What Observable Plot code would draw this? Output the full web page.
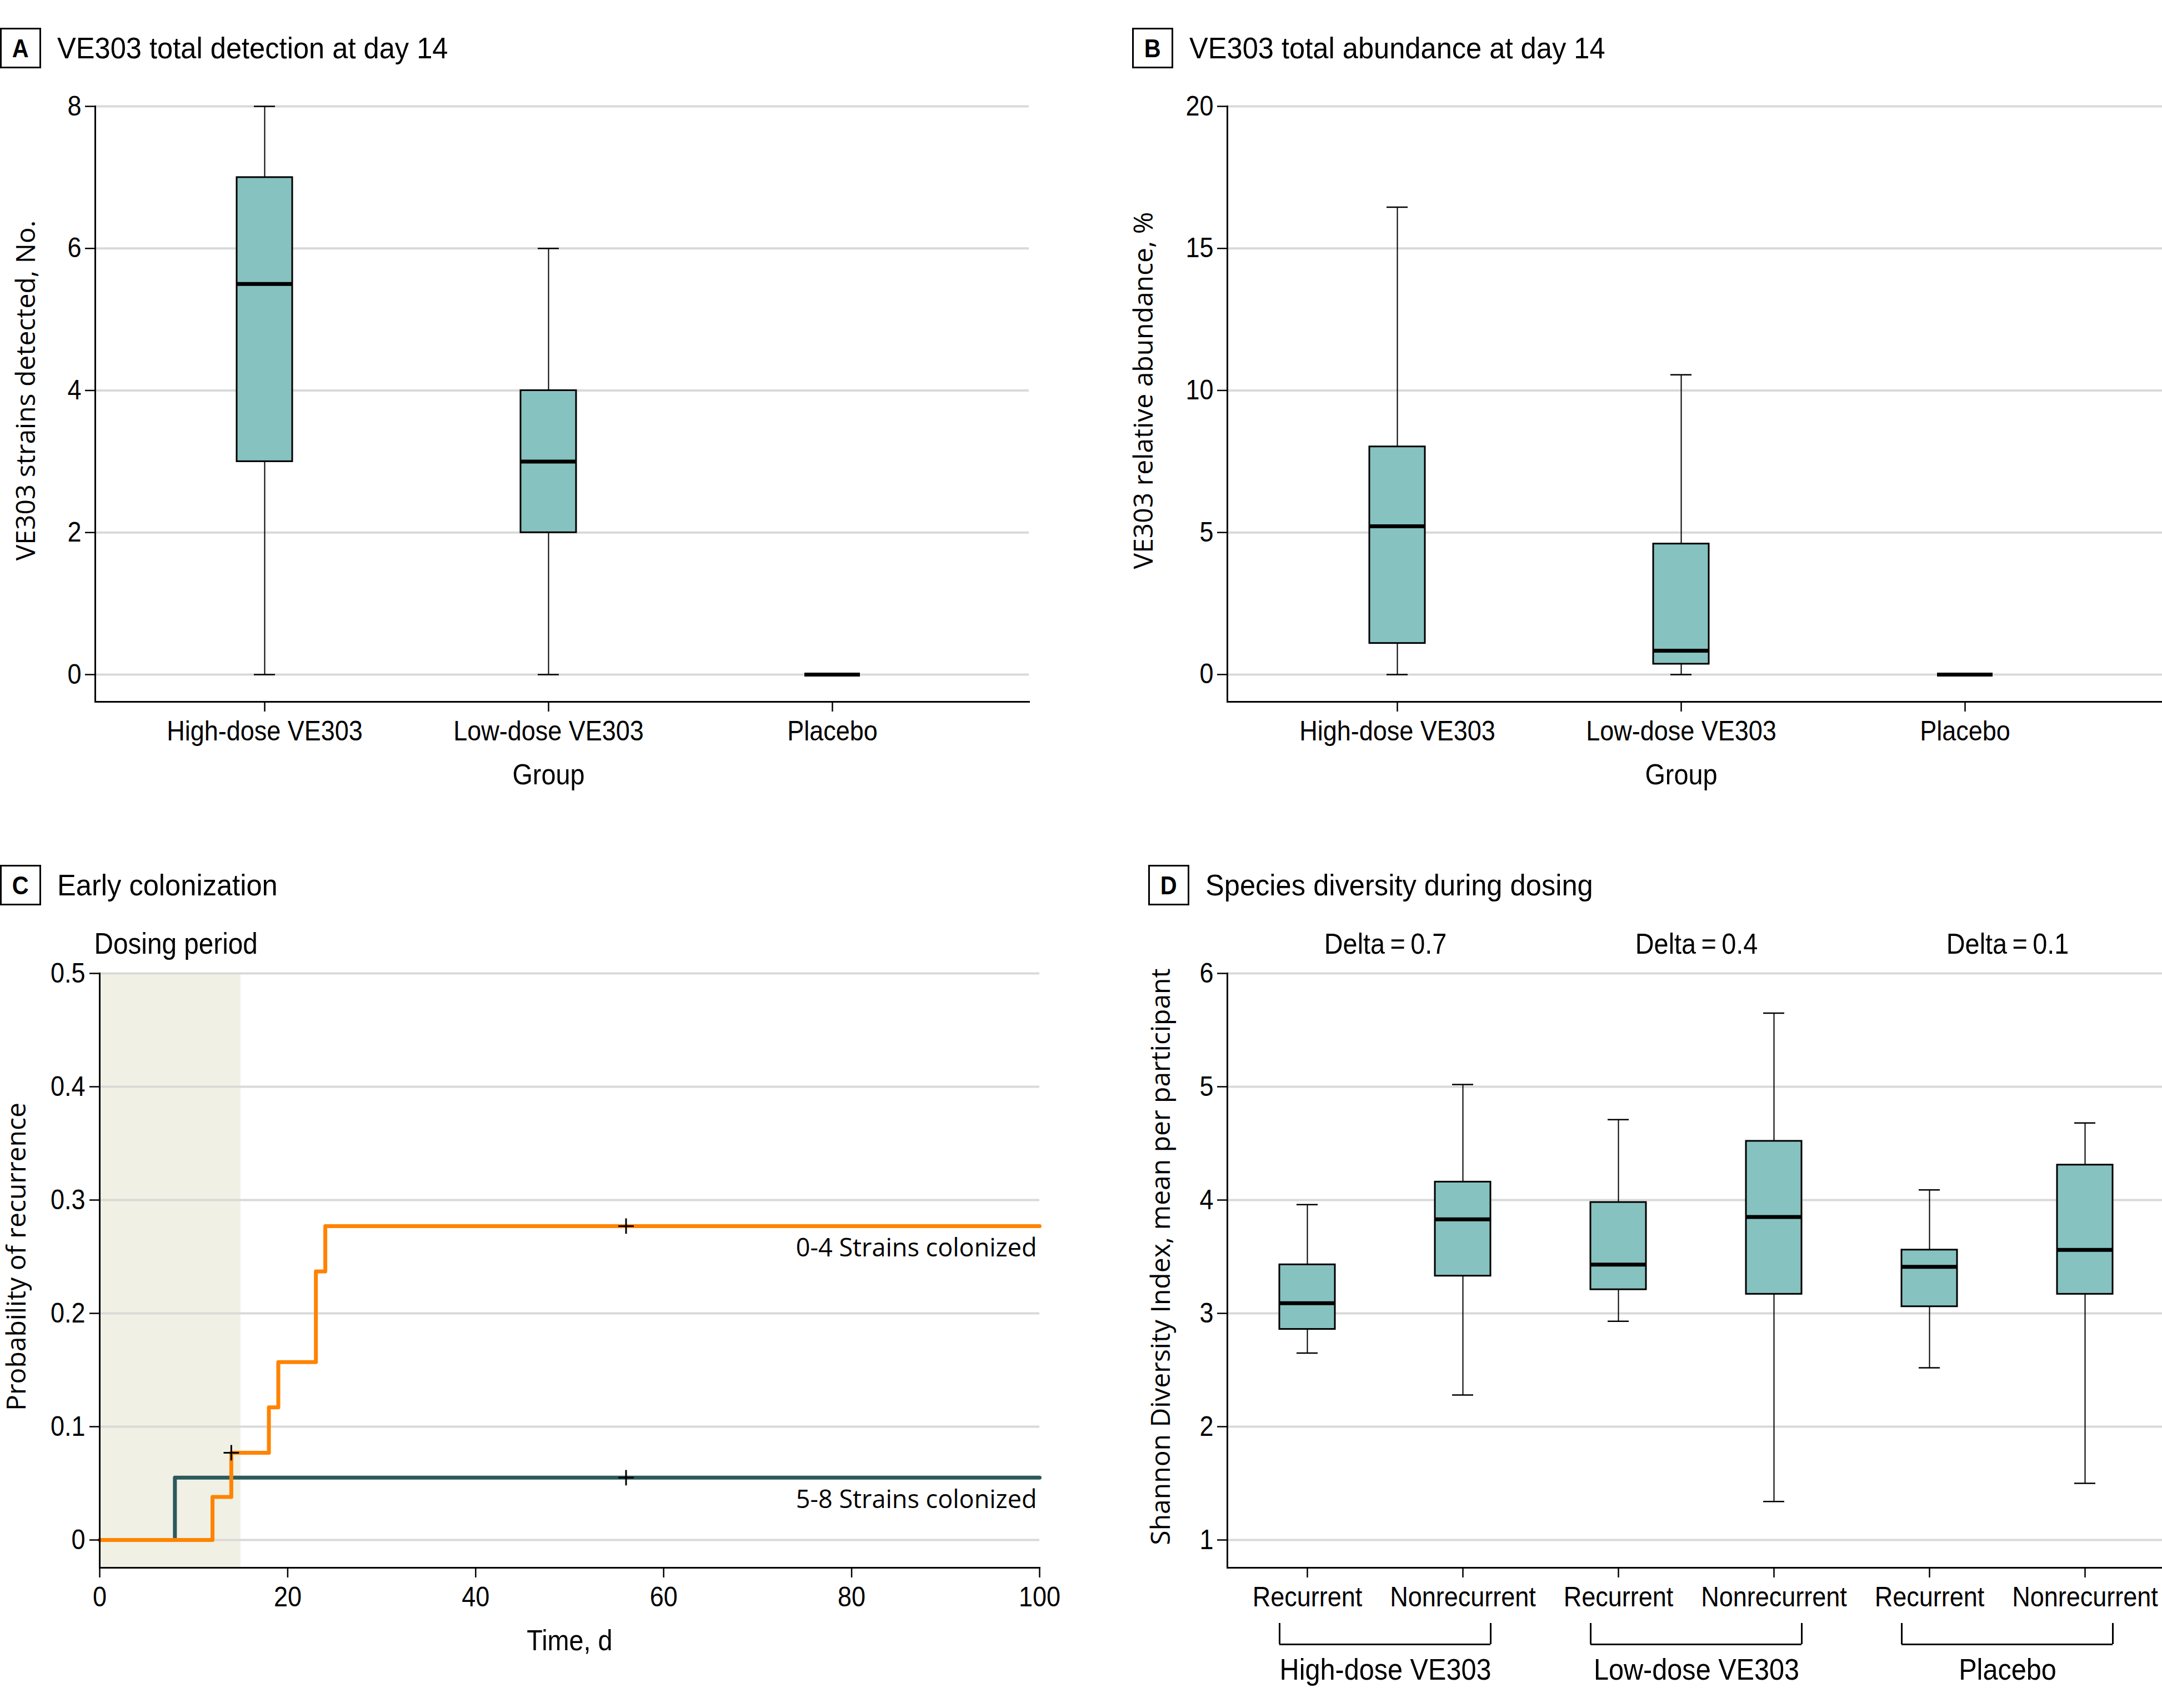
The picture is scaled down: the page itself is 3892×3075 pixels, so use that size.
<!DOCTYPE html>
<html>
<head>
<meta charset="utf-8">
<script src="https://cdn.jsdelivr.net/npm/d3@7"></script>
<script src="https://cdn.jsdelivr.net/npm/@observablehq/plot@0.6"></script>
<style>
  html, body { margin: 0; padding: 0; background: #fff; }
  body { width: 3892px; height: 3075px; position: relative; overflow: hidden; }
  .panel { position: absolute; }
  .hdr { position: absolute; display: flex; align-items: center; height: 73px; }
  .lbl { width: 74px; height: 73px; box-sizing: border-box; border: 3px solid #000;
         display: flex; align-items: center; justify-content: center;
         font-family: "Liberation Sans", Arial, sans-serif; font-weight: bold; font-size: 46px; }
  .lbl span { display: inline-block; transform: scaleX(0.9); }
  .ttl { margin-left: 29px; font-family: "Liberation Sans", Arial, sans-serif;
         font-size: 53px; line-height: 1; white-space: nowrap;
         transform: scaleX(0.955); transform-origin: left center; }
</style>
</head>
<body>
<div class="hdr" style="left:0px; top:50px;"><div class="lbl"><span>A</span></div><div class="ttl">VE303 total detection at day 14</div></div>
<div class="hdr" style="left:2038px; top:50px;"><div class="lbl"><span>B</span></div><div class="ttl">VE303 total abundance at day 14</div></div>
<div class="hdr" style="left:0px; top:1557px;"><div class="lbl"><span>C</span></div><div class="ttl">Early colonization</div></div>
<div class="hdr" style="left:2067px; top:1557px;"><div class="lbl"><span>D</span></div><div class="ttl">Species diversity during dosing</div></div>
<div id="pA" class="panel" style="left:0px; top:140px;"></div>
<div id="pB" class="panel" style="left:1950px; top:140px;"></div>
<div id="pC" class="panel" style="left:0px; top:1640px;"></div>
<div id="pD" class="panel" style="left:1950px; top:1640px;"></div>
<script>
// ---------------- DATA ----------------
// Panels A and B: groups
const groupsAB = ["High-dose VE303", "Low-dose VE303", "Placebo"];
// A: VE303 strains detected at day 14 (box plot summaries)
const strainsMin = [0, 0, 0];
const strainsQ1 = [3, 2, 0];
const strainsMedian = [5.5, 3, 0];
const strainsQ3 = [7, 4, 0];
const strainsMax = [8, 6, 0];
const strainsTicks = [0, 2, 4, 6, 8];
// B: VE303 relative abundance, %
const abundMin = [0, 0, 0];
const abundQ1 = [1.1, 0.37, 0];
const abundMedian = [5.22, 0.84, 0];
const abundQ3 = [8.02, 4.6, 0];
const abundMax = [16.45, 10.55, 0];
const abundTicks = [0, 5, 10, 15, 20];
// C: Kaplan-Meier style step curves
const dosingPeriod = [0, 15];
const seriesLabels = ["0-4 Strains colonized", "5-8 Strains colonized"];
const lowTimes = [0, 12, 14, 18, 19, 23, 24, 100];
const lowProb = [0, 0.038, 0.077, 0.117, 0.157, 0.237, 0.277, 0.277];
const highTimes = [0, 8, 100];
const highProb = [0, 0.055, 0.055];
const lowCensorTimes = [14, 56];
const lowCensorProb = [0.077, 0.277];
const highCensorTimes = [56];
const highCensorProb = [0.055];
const probTicks = [0, 0.1, 0.2, 0.3, 0.4, 0.5];
const timeTicks = [0, 20, 40, 60, 80, 100];
// D: Shannon diversity
const diversityGroups = ["High-dose VE303", "Low-dose VE303", "Placebo"];
const diversityOutcomes = ["Recurrent", "Nonrecurrent"];
const diversityDeltas = ["Delta\u2009=\u20090.7", "Delta\u2009=\u20090.4", "Delta\u2009=\u20090.1"];
const divMin    = [2.65, 2.28, 2.93, 1.34, 2.52, 1.50];
const divQ1     = [2.86, 3.33, 3.21, 3.17, 3.06, 3.17];
const divMedian = [3.09, 3.83, 3.43, 3.85, 3.41, 3.56];
const divQ3     = [3.43, 4.16, 3.98, 4.52, 3.56, 4.31];
const divMax    = [3.96, 5.02, 4.71, 5.65, 4.09, 4.68];
const divTicks = [1, 2, 3, 4, 5, 6];

// ---------------- STYLE ----------------
const COND = '"Liberation Sans", Arial, sans-serif';
const WIDE = '"Open Sans", "DejaVu Sans", sans-serif';
const BOX = "#86C2C0";
const GRID = "#D9D9D9";
const ORANGE = "#FF8300";
const TEAL = "#2C5A5B";
const SHADE = "#F0F0E4";
const plotStyle = {fontFamily: COND, fontSize: "50px", color: "#000", background: "transparent", overflow: "visible"};

// emulate the condensed typeface of the original by squeezing glyphs horizontally
function condense(svg, factor) {
  svg.querySelectorAll("text").forEach(t => {
    const g = t.closest("[font-family]");
    const ff = (t.getAttribute("font-family") || (g && g !== svg ? g.getAttribute("font-family") : "") || "");
    if (ff.includes("Open Sans")) return;
    const w = t.getComputedTextLength();
    if (w > 0) {
      t.setAttribute("textLength", (w * factor).toFixed(2));
      t.setAttribute("lengthAdjust", "spacingAndGlyphs");
    }
  });
}

function boxMarks(rows, ticks, yFmt, xFmt) {
  return [
    Plot.gridY(ticks, {stroke: GRID, strokeOpacity: 1, strokeWidth: 4}),
    Plot.ruleX(rows, {x: "key", y1: "min", y2: "max", stroke: "#000", strokeWidth: 2}),
    Plot.tickY(rows, {x: "key", y: "min", stroke: "#000", strokeWidth: 2.5, insetLeft: 31, insetRight: 31}),
    Plot.tickY(rows, {x: "key", y: "max", stroke: "#000", strokeWidth: 2.5, insetLeft: 31, insetRight: 31}),
    Plot.barY(rows, {x: "key", y1: "q1", y2: "q3", fill: BOX, stroke: "#000", strokeWidth: 3}),
    Plot.tickY(rows, {x: "key", y: "median", stroke: "#000", strokeWidth: 7}),
    Plot.frame({anchor: "left", stroke: "#000", strokeWidth: 3}),
    Plot.frame({anchor: "bottom", stroke: "#000", strokeWidth: 3}),
    Plot.axisY({ticks, tickFormat: yFmt, tickSize: 18, tickPadding: 7, label: null, strokeWidth: 2.5}),
    Plot.axisX({tickFormat: xFmt, tickSize: 18, tickPadding: 16, label: null, strokeWidth: 2.5})
  ];
}

function rowsFrom(keys, mn, q1, md, q3, mx) {
  return keys.map((k, i) => ({key: k, min: mn[i], q1: q1[i], median: md[i], q3: q3[i], max: mx[i]}));
}

function mount(id, svg) {
  document.getElementById(id).append(svg);
  condense(svg, 0.9);
}

// ---------------- PANEL A ----------------
const bandAB = {type: "band", domain: groupsAB, paddingInner: 0.8044, paddingOuter: 0.546, align: 0.457};
const rowsA = rowsFrom(groupsAB, strainsMin, strainsQ1, strainsMedian, strainsQ3, strainsMax);
mount("pA", Plot.plot({
  width: 1950, height: 1310, marginTop: 51, marginLeft: 171, marginRight: 98, marginBottom: 187,
  style: plotStyle,
  x: bandAB,
  y: {domain: [-0.383, 8]},
  marks: [
    ...boxMarks(rowsA, strainsTicks, d => String(d), d => d),
    Plot.text(["VE303 strains detected, No."], {text: d => d, frameAnchor: "left", y: () => 4, dx: -124, rotate: -90, textAnchor: "middle", lineAnchor: "middle", fontFamily: WIDE, fontSize: 48}),
    Plot.text(["Group"], {text: d => d, x: () => groupsAB[1], frameAnchor: "bottom", dy: 132, lineAnchor: "middle", fontSize: 52})
  ]
}));

// ---------------- PANEL B ----------------
const rowsB = rowsFrom(groupsAB, abundMin, abundQ1, abundMedian, abundQ3, abundMax);
mount("pB", Plot.plot({
  width: 1942, height: 1310, marginTop: 51, marginLeft: 259, marginRight: 0, marginBottom: 187,
  style: plotStyle,
  x: bandAB,
  y: {domain: [-0.96, 20]},
  marks: [
    ...boxMarks(rowsB, abundTicks, d => String(d), d => d),
    Plot.text(["VE303 relative abundance, %"], {text: d => d, frameAnchor: "left", y: () => 10, dx: -150, rotate: -90, textAnchor: "middle", lineAnchor: "middle", fontFamily: WIDE, fontSize: 48}),
    Plot.text(["Group"], {text: d => d, x: () => groupsAB[1], frameAnchor: "bottom", dy: 132, lineAnchor: "middle", fontSize: 52})
  ]
}));

// ---------------- PANEL C ----------------
const lowRows = lowTimes.map((t, i) => ({t, p: lowProb[i]}));
const highRows = highTimes.map((t, i) => ({t, p: highProb[i]}));
const censorRows = [
  ...lowCensorTimes.map((t, i) => ({t, p: lowCensorProb[i]})),
  ...highCensorTimes.map((t, i) => ({t, p: highCensorProb[i]}))
];
const seriesEnds = [
  {label: seriesLabels[0], t: lowTimes[lowTimes.length - 1], p: lowProb[lowProb.length - 1]},
  {label: seriesLabels[1], t: highTimes[highTimes.length - 1], p: highProb[highProb.length - 1]}
];
mount("pC", Plot.plot({
  width: 1950, height: 1435, marginTop: 112, marginLeft: 179, marginRight: 79, marginBottom: 253,
  style: plotStyle,
  x: {domain: [0, 100]},
  y: {domain: [-0.0245, 0.5]},
  marks: [
    Plot.rect([dosingPeriod], {x1: d => d[0], x2: d => d[1], fill: SHADE}),
    Plot.gridY(probTicks, {stroke: GRID, strokeOpacity: 1, strokeWidth: 4}),
    Plot.line(highRows, {x: "t", y: "p", curve: "step-after", stroke: TEAL, strokeWidth: 7}),
    Plot.line(lowRows, {x: "t", y: "p", curve: "step-after", stroke: ORANGE, strokeWidth: 7}),
    Plot.dot(censorRows, {x: "t", y: "p", symbol: "plus", r: 9, stroke: "#000", strokeWidth: 3}),
    Plot.text(seriesEnds, {x: "t", y: "p", text: "label", textAnchor: "end", lineAnchor: "middle", dx: -5, dy: 40, fontFamily: WIDE, fontSize: 45}),
    Plot.frame({anchor: "left", stroke: "#000", strokeWidth: 3}),
    Plot.frame({anchor: "bottom", stroke: "#000", strokeWidth: 3}),
    Plot.axisY({ticks: probTicks, tickFormat: d => String(d), tickSize: 18, tickPadding: 8, label: null, strokeWidth: 2.5}),
    Plot.axisX({ticks: timeTicks, tickFormat: d => String(d), tickSize: 18, tickPadding: 16, label: null, strokeWidth: 2.5}),
    Plot.text(["Probability of recurrence"], {text: d => d, frameAnchor: "left", y: () => 0.25, dx: -149, rotate: -90, textAnchor: "middle", lineAnchor: "middle", fontFamily: WIDE, fontSize: 48}),
    Plot.text(["Time, d"], {text: d => d, x: () => 50, frameAnchor: "bottom", dy: 132, lineAnchor: "middle", fontSize: 52}),
    Plot.text(["Dosing period"], {text: d => d, x: () => dosingPeriod[0], frameAnchor: "top", textAnchor: "start", lineAnchor: "middle", dx: -10, dy: -52, fontSize: 53})
  ]
}));

// ---------------- PANEL D ----------------
const keysD = [];
diversityGroups.forEach(g => diversityOutcomes.forEach(o => keysD.push(g + "|" + o)));
const rowsD = rowsFrom(keysD, divMin, divQ1, divMedian, divQ3, divMax);
const dWidth = 1942, dML = 259, dMR = 0, dMT = 112, dMB = 253, dHeight = 1435;
const padInD = 0.644, padOutD = 0.3167;
const stepD = (dWidth - dML - dMR) / (keysD.length - padInD + 2 * padOutD);
const bwD = stepD * (1 - padInD);
const yDomD = [0.755, 6];
const pxPerUnitD = (dHeight - dMT - dMB) / (yDomD[1] - yDomD[0]);
const bracketLow = yDomD[0] - 138 / pxPerUnitD;
const bracketHigh = yDomD[0] - 100 / pxPerUnitD;
const groupRows = diversityGroups.map((g, i) => ({
  first: g + "|" + diversityOutcomes[0],
  last: g + "|" + diversityOutcomes[1],
  group: g,
  delta: diversityDeltas[i]
}));
mount("pD", Plot.plot({
  width: dWidth, height: dHeight, marginTop: dMT, marginLeft: dML, marginRight: dMR, marginBottom: dMB,
  style: plotStyle,
  x: {type: "band", domain: keysD, paddingInner: padInD, paddingOuter: padOutD, align: 0.511},
  y: {domain: yDomD},
  marks: [
    ...boxMarks(rowsD, divTicks, d => String(d), d => d.split("|")[1]),
    Plot.ruleY(groupRows, {x1: "first", x2: "last", y: () => bracketLow, stroke: "#000", strokeWidth: 3}),
    Plot.ruleX(groupRows, {x: "first", y1: () => bracketLow, y2: () => bracketHigh, dx: -bwD / 2, stroke: "#000", strokeWidth: 3}),
    Plot.ruleX(groupRows, {x: "last", y1: () => bracketLow, y2: () => bracketHigh, dx: bwD / 2, stroke: "#000", strokeWidth: 3}),
    Plot.text(groupRows, {x: "first", text: "group", frameAnchor: "bottom", lineAnchor: "middle", dx: stepD / 2, dy: 184, fontSize: 54}),
    Plot.text(groupRows, {x: "first", text: "delta", frameAnchor: "top", lineAnchor: "middle", dx: stepD / 2, dy: -52, fontSize: 52}),
    Plot.text(["Shannon Diversity Index, mean per participant"], {text: d => d, frameAnchor: "left", y: () => 3.5, dx: -119, rotate: -90, textAnchor: "middle", lineAnchor: "middle", fontFamily: WIDE, fontSize: 48})
  ]
}));
</script>
</body>
</html>
